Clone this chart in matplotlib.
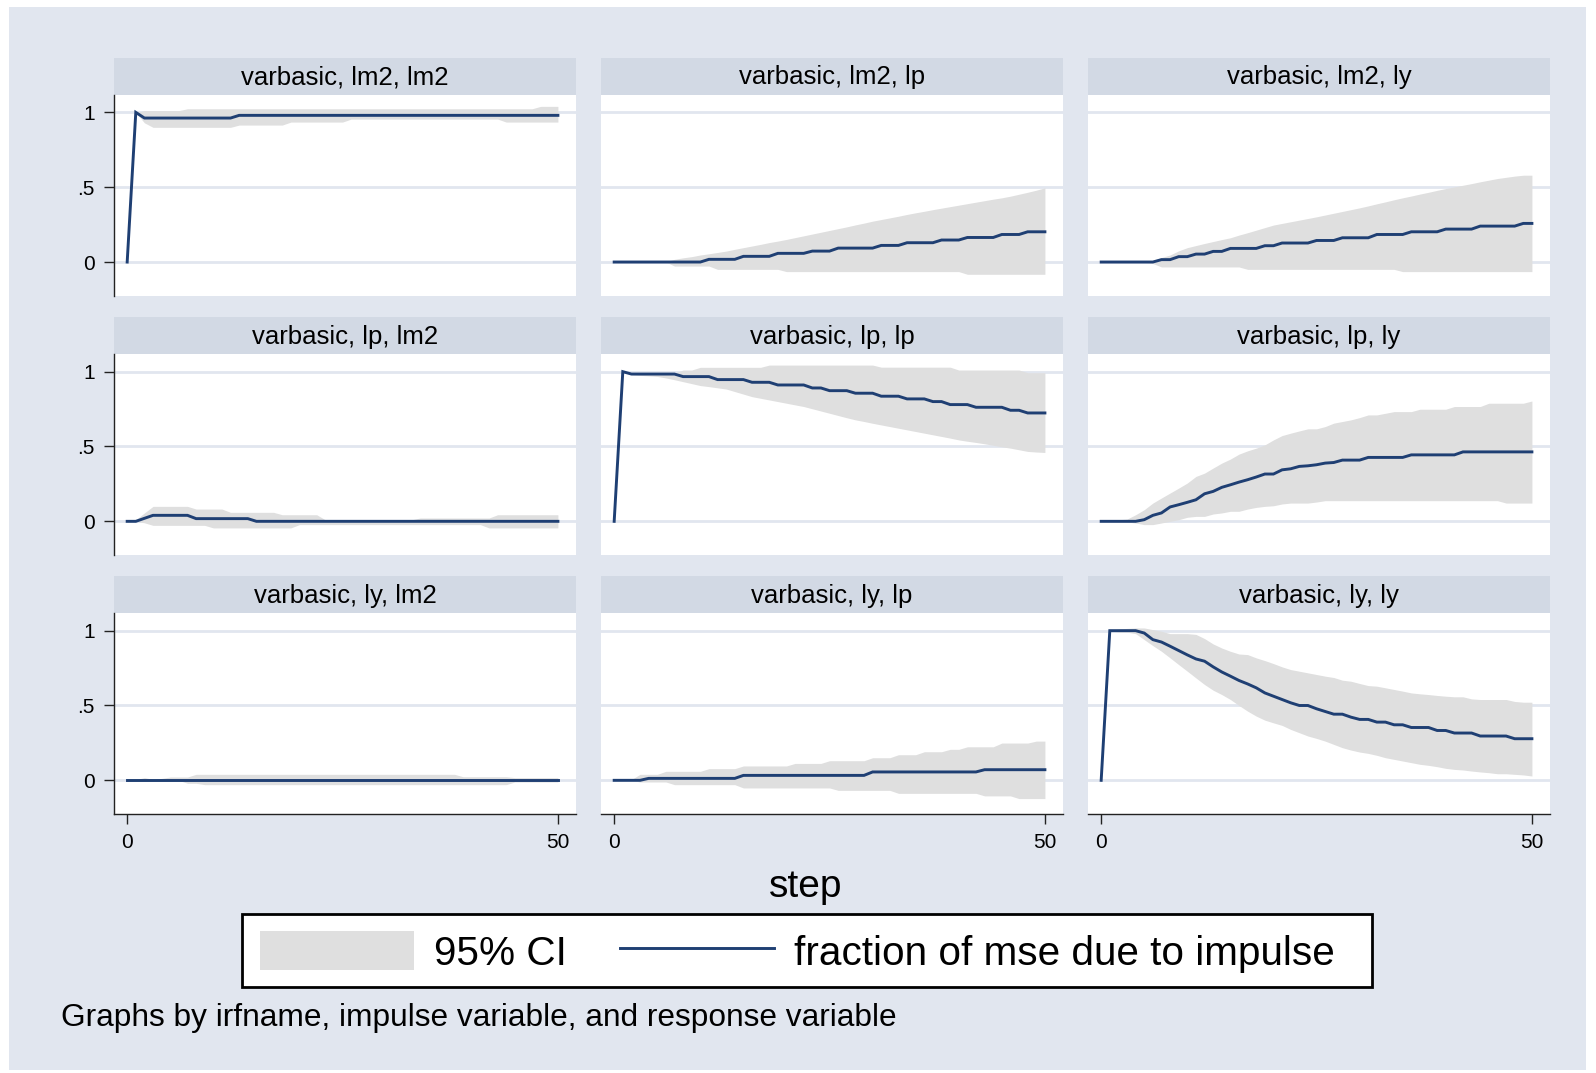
import numpy as np
import matplotlib
matplotlib.use("Agg")
import matplotlib.pyplot as plt
from matplotlib.patches import Rectangle

plt.rcParams['font.family'] = ['Liberation Sans', 'DejaVu Sans']

nan = np.nan
STEPS = list(range(51))

TITLES = ["varbasic, lm2, lm2", "varbasic, lm2, lp", "varbasic, lm2, ly",
          "varbasic, lp, lm2", "varbasic, lp, lp", "varbasic, lp, ly",
          "varbasic, ly, lm2", "varbasic, ly, lp", "varbasic, ly, ly"]

# ---- panel 1: lm2 -> lm2
P1_LINE = [0, 1.0, .962, .962, .962, .962, .962, .962, .962, .962,
           .962, .962, .962, .98, .98, .98, .98, .98, .98, .98,
           .98, .98, .98, .98, .98, .98, .98, .98, .98, .98,
           .98, .98, .98, .98, .98, .98, .98, .98, .98, .98,
           .98, .98, .98, .98, .98, .98, .98, .98, .98, .98,
           .98]
P1_LO = [nan, 1.0, .93, .90, .90, .90, .90, .90, .90, .90,
         .90, .90, .90, .915, .915, .915, .915, .915, .915, .935,
         .935, .935, .935, .935, .935, .935, .955, .955, .955, .955,
         .955, .955, .955, .955, .955, .955, .955, .955, .955, .955,
         .955, .955, .955, .955, .935, .935, .935, .935, .935, .935,
         .935]
P1_HI = [nan, 1.0, 1.012, 1.012, 1.012, 1.012, 1.012, 1.024, 1.024, 1.024,
         1.024, 1.024, 1.024, 1.024, 1.024, 1.024, 1.024, 1.024, 1.024, 1.024,
         1.024, 1.024, 1.024, 1.024, 1.024, 1.024, 1.024, 1.024, 1.024, 1.024,
         1.024, 1.024, 1.024, 1.024, 1.024, 1.024, 1.024, 1.024, 1.024, 1.024,
         1.024, 1.024, 1.024, 1.024, 1.024, 1.024, 1.024, 1.024, 1.04, 1.04,
         1.04]

# ---- panel 2: lm2 -> lp
P2_LINE = [0, 0, 0, 0, 0, 0, 0, 0, 0, 0,
           0, .018, .018, .018, .018, .038, .038, .038, .038, .058,
           .058, .058, .058, .073, .073, .073, .093, .093, .093, .093,
           .093, .111, .111, .111, .129, .129, .129, .129, .147, .147,
           .147, .164, .164, .164, .164, .184, .184, .184, .202, .202,
           .202]
P2_LO = [nan, 0, 0, 0, 0, 0, 0, -.027, -.027, -.027,
         -.027, -.027, -.049, -.049, -.049, -.049, -.049, -.049, -.049, -.049,
         -.064, -.064, -.064, -.064, -.064, -.064, -.064, -.064, -.064, -.064,
         -.064, -.064, -.064, -.064, -.064, -.064, -.064, -.064, -.064, -.064,
         -.064, -.082, -.082, -.082, -.082, -.082, -.082, -.082, -.082, -.082,
         -.082]
P2_HI = [nan, 0, 0, 0, 0, 0, .002, .018, .028, .036,
         .047, .055, .064, .073, .085, .096, .107, .118, .13, .14,
         .151, .163, .175, .187, .199, .211, .223, .235, .248, .26,
         .273, .284, .295, .306, .318, .329, .339, .35, .36, .37,
         .38, .39, .40, .41, .42, .429, .44, .453, .466, .48,
         .496]

# ---- panel 3: lm2 -> ly
P3_LINE = [0, 0, 0, 0, 0, 0, 0, .016, .016, .036,
           .036, .053, .053, .071, .071, .091, .091, .091, .091, .109,
           .109, .127, .127, .127, .127, .144, .144, .144, .162, .162,
           .162, .162, .184, .184, .184, .184, .202, .202, .202, .202,
           .22, .22, .22, .22, .24, .24, .24, .24, .24, .258,
           .258]
P3_LO = [nan, 0, 0, 0, 0, 0, -.01, -.033, -.033, -.033,
         -.033, -.033, -.033, -.033, -.033, -.033, -.033, -.049, -.049, -.049,
         -.049, -.049, -.049, -.049, -.049, -.049, -.049, -.049, -.049, -.049,
         -.049, -.049, -.049, -.049, -.049, -.064, -.064, -.064, -.064, -.064,
         -.064, -.064, -.064, -.064, -.064, -.064, -.064, -.064, -.064, -.064,
         -.064]
P3_HI = [nan, 0, 0, 0, 0, 0, .01, .03, .047, .075,
         .096, .11, .124, .137, .15, .162, .18, .196, .213, .23,
         .247, .258, .269, .28, .291, .302, .314, .326, .338, .35,
         .362, .375, .389, .402, .416, .429, .441, .454, .466, .479,
         .491, .502, .513, .524, .536, .547, .558, .566, .574, .58,
         .58]

# ---- panel 4: lp -> lm2
P4_LINE = [0, 0, .02, .04, .04, .04, .04, .04, .018, .018,
           .018, .018, .018, .018, .018, 0, 0, 0, 0, 0,
           0, 0, 0, 0, 0, 0, 0, 0, 0, 0,
           0, 0, 0, 0, 0, 0, 0, 0, 0, 0,
           0, 0, 0, 0, 0, 0, 0, 0, 0, 0,
           0]
P4_LO = [nan, 0, -.01, -.027, -.027, -.027, -.027, -.027, -.027, -.027,
         -.044, -.044, -.044, -.044, -.044, -.044, -.044, -.044, -.044, -.044,
         -.022, -.022, -.022, -.022, -.022, -.022, -.022, -.022, -.022, -.022,
         -.022, -.022, -.022, -.022, -.022, -.022, -.022, -.022, -.022, -.022,
         -.022, -.022, -.044, -.044, -.044, -.044, -.044, -.044, -.044, -.044,
         -.044]
P4_HI = [nan, .01, .056, .10, .10, .10, .10, .10, .082, .082,
         .082, .082, .06, .06, .06, .06, .06, .06, .044, .044,
         .044, .044, .044, .01, .01, .01, .01, .01, .01, .01,
         .01, .01, .01, .01, .022, .022, .022, .022, .022, .022,
         .022, .022, .022, .044, .044, .044, .044, .044, .044, .044,
         .044]

# ---- panel 5: lp -> lp
P5_LINE = [0, 1.0, .984, .984, .984, .984, .984, .984, .967, .967,
           .967, .967, .947, .947, .947, .947, .929, .929, .929, .911,
           .911, .911, .911, .891, .891, .873, .873, .873, .856, .856,
           .856, .836, .836, .836, .818, .818, .818, .80, .80, .78,
           .78, .78, .762, .762, .762, .762, .742, .742, .724, .724,
           .724]
P5_LO = [nan, 1.0, .98, .975, .972, .968, .958, .946, .933, .92,
         .907, .90, .892, .884, .867, .85, .833, .822, .811, .80,
         .789, .778, .767, .752, .737, .722, .707, .692, .678, .667,
         .655, .644, .633, .622, .611, .60, .589, .578, .567, .556,
         .544, .535, .527, .518, .508, .498, .489, .478, .467, .463,
         .46]
P5_HI = [nan, 1.0, .99, .99, .99, .99, .99, .99, 1.011, 1.011,
         1.029, 1.029, 1.029, 1.029, 1.029, 1.029, 1.029, 1.029, 1.044, 1.044,
         1.044, 1.044, 1.044, 1.044, 1.044, 1.044, 1.044, 1.044, 1.044, 1.044,
         1.044, 1.03, 1.03, 1.03, 1.03, 1.03, 1.03, 1.03, 1.03, 1.03,
         1.011, 1.011, 1.011, 1.011, 1.011, 1.011, 1.011, 1.011, .993, .993,
         .993]

# ---- panel 6: lp -> ly
P6_LINE = [0, 0, 0, 0, 0, .011, .04, .056, .096, .111,
           .127, .144, .184, .20, .227, .244, .262, .278, .296, .316,
           .316, .344, .351, .367, .371, .378, .389, .393, .409, .409,
           .409, .427, .427, .427, .427, .427, .444, .444, .444, .444,
           .444, .444, .464, .464, .464, .464, .464, .464, .464, .464,
           .464]
P6_LO = [nan, -.005, -.005, -.005, -.011, -.022, -.022, -.011, 0, .011,
         .027, .033, .033, .049, .056, .067, .067, .082, .093, .10,
         .104, .116, .122, .122, .122, .129, .138, .138, .138, .138,
         .138, .138, .138, .138, .138, .138, .138, .138, .138, .138,
         .138, .138, .138, .138, .138, .138, .138, .122, .122, .122,
         .122]
P6_HI = [nan, .01, .01, .015, .044, .078, .122, .156, .189, .222,
         .256, .30, .322, .356, .389, .416, .449, .471, .489, .511,
         .544, .573, .589, .604, .618, .618, .633, .656, .667, .678,
         .693, .711, .711, .722, .733, .733, .733, .749, .749, .749,
         .749, .767, .767, .767, .767, .789, .789, .789, .789, .789,
         .804]

# ---- panel 7: ly -> lm2
P7_LINE = [0, 0, 0, 0, 0, 0, 0, 0, 0, 0,
           0, 0, 0, 0, 0, 0, 0, 0, 0, 0,
           0, 0, 0, 0, 0, 0, 0, 0, 0, 0,
           0, 0, 0, 0, 0, 0, 0, 0, 0, 0,
           0, 0, 0, 0, 0, 0, 0, 0, 0, 0,
           0]
P7_LO = [nan, 0, 0, 0, 0, 0, 0, -.02, -.02, -.029,
         -.029, -.029, -.029, -.029, -.029, -.029, -.029, -.029, -.029, -.029,
         -.029, -.029, -.029, -.029, -.029, -.029, -.029, -.029, -.029, -.029,
         -.029, -.029, -.029, -.029, -.029, -.029, -.029, -.029, -.029, -.029,
         -.029, -.029, -.029, -.029, -.029, -.011, -.011, -.011, -.011, -.011,
         -.011]
P7_HI = [nan, .005, .018, .007, .013, .022, .022, .022, .04, .04,
         .04, .04, .04, .04, .04, .04, .04, .04, .04, .04,
         .04, .04, .04, .04, .04, .04, .04, .04, .04, .04,
         .04, .04, .04, .04, .04, .04, .04, .04, .04, .024,
         .024, .024, .024, .024, .024, .018, .018, .018, .018, .018,
         .018]

# ---- panel 8: ly -> lp
P8_LINE = [0, 0, 0, 0, .013, .013, .013, .013, .013, .013,
           .013, .013, .013, .013, .013, .033, .033, .033, .033, .033,
           .033, .033, .033, .033, .033, .033, .033, .033, .033, .033,
           .056, .056, .056, .056, .056, .056, .056, .056, .056, .056,
           .056, .056, .056, .071, .071, .071, .071, .071, .071, .071,
           .071]
P8_LO = [nan, 0, 0, -.011, -.011, -.011, -.011, -.029, -.029, -.029,
         -.029, -.029, -.029, -.029, -.029, -.051, -.051, -.051, -.051, -.051,
         -.051, -.051, -.051, -.051, -.051, -.051, -.067, -.067, -.067, -.067,
         -.067, -.067, -.067, -.087, -.087, -.087, -.087, -.087, -.087, -.087,
         -.087, -.087, -.087, -.104, -.104, -.104, -.104, -.122, -.122, -.122,
         -.122]
P8_HI = [nan, .005, .005, .04, .04, .04, .06, .06, .06, .06,
         .06, .078, .078, .078, .078, .096, .096, .096, .096, .096,
         .096, .113, .113, .113, .113, .131, .131, .131, .131, .131,
         .151, .151, .151, .171, .171, .171, .191, .191, .191, .207,
         .207, .224, .224, .224, .224, .249, .249, .249, .249, .262,
         .262]

# ---- panel 9: ly -> ly
P9_LINE = [0, 1.0, 1.0, 1.0, 1.0, .984, .94, .924, .896, .867,
           .838, .811, .796, .758, .724, .696, .667, .644, .618, .584,
           .562, .54, .518, .50, .50, .478, .46, .442, .442, .422,
           .407, .407, .389, .389, .371, .371, .353, .353, .353, .333,
           .333, .316, .316, .316, .296, .296, .296, .296, .278, .278,
           .278]
P9_LO = [nan, 1.0, .99, .99, .98, .94, .90, .862, .818, .773,
         .729, .684, .64, .602, .573, .54, .50, .462, .429, .402,
         .384, .367, .34, .318, .296, .28, .262, .24, .218, .202,
         .189, .18, .167, .151, .14, .129, .118, .107, .10, .091,
         .08, .073, .069, .062, .056, .051, .044, .044, .04, .036,
         .029]
P9_HI = [nan, 1.0, 1.01, 1.015, 1.018, 1.018, 1.007, .996, .98, .98,
         .98, .975, .947, .911, .884, .862, .844, .84, .818, .80,
         .78, .758, .74, .729, .718, .707, .696, .687, .669, .662,
         .647, .633, .629, .618, .607, .596, .584, .578, .573, .567,
         .562, .558, .558, .544, .54, .54, .54, .54, .527, .522,
         .522]

LINES = [P1_LINE, P2_LINE, P3_LINE, P4_LINE, P5_LINE, P6_LINE, P7_LINE, P8_LINE, P9_LINE]
LOWS = [P1_LO, P2_LO, P3_LO, P4_LO, P5_LO, P6_LO, P7_LO, P8_LO, P9_LO]
HIGHS = [P1_HI, P2_HI, P3_HI, P4_HI, P5_HI, P6_HI, P7_HI, P8_HI, P9_HI]

Y_TICKS = [0, 0.5, 1]
Y_TICKLABELS = ["0", ".5", "1"]
X_TICKS = [0, 50]
X_TICKLABELS = ["0", "50"]

CANVAS = "#E1E6EF"
STRIP = "#D2D9E4"
GRID = "#E1E6EF"
BAND = "#DFDFDF"
NAVY = "#1F3F73"

W, H = 1596, 1073
fig = plt.figure(figsize=(W / 100, H / 100), dpi=100, facecolor="white")


def rect(l, t, w, h):
    return [l / W, 1 - (t + h) / H, w / W, h / H]


fig.add_artist(Rectangle((9 / W, 1 - 1070 / H), (1586 - 9) / W, (1070 - 7) / H,
                         transform=fig.transFigure, facecolor=CANVAS,
                         edgecolor="none", zorder=-5))

col_left = [114, 601, 1088]
plot_w = 462
strip_top = [58, 317.3, 576.3]
strip_h = 36.7
plot_top = [94.7, 354.0, 613.0]
plot_h = 201

band_h = line_h = None
for i in range(9):
    r, c = divmod(i, 3)
    axs = fig.add_axes(rect(col_left[c], strip_top[r], plot_w, strip_h))
    axs.set_facecolor(STRIP)
    axs.set_xticks([])
    axs.set_yticks([])
    for sp in axs.spines.values():
        sp.set_visible(False)
    axs.text(0.5, 0.47, TITLES[i], ha="center", va="center", fontsize=18.5,
             transform=axs.transAxes)

    ax = fig.add_axes(rect(col_left[c], plot_top[r], plot_w, plot_h))
    ax.set_facecolor("white")
    ax.set_xlim(-1.53, 52.1)
    ax.set_ylim(-0.225, 1.118)
    band_h = ax.fill_between(STEPS, np.array(LOWS[i], float), np.array(HIGHS[i], float),
                             color=BAND, lw=0, zorder=2)
    line_h, = ax.plot(STEPS, LINES[i], color=NAVY, lw=2.1, zorder=3,
                      solid_joinstyle="miter")
    ax.set_yticks(Y_TICKS)
    ax.set_yticklabels(Y_TICKLABELS)
    ax.set_xticks(X_TICKS)
    ax.set_xticklabels(X_TICKLABELS)
    ax.yaxis.grid(True, color=GRID, lw=2.0, zorder=1)
    ax.set_axisbelow(True)
    for sp in ax.spines.values():
        sp.set_visible(False)
    ax.tick_params(axis="both", labelsize=15, length=7, width=1.0, pad=7,
                   color="#222222")
    if c == 0:
        ax.spines["left"].set_visible(True)
        ax.spines["left"].set_linewidth(1.0)
        ax.spines["left"].set_color("#222222")
    else:
        ax.tick_params(axis="y", left=False, labelleft=False)
    if r == 2:
        ax.spines["bottom"].set_visible(True)
        ax.spines["bottom"].set_linewidth(1.0)
        ax.spines["bottom"].set_color("#222222")
    else:
        ax.tick_params(axis="x", bottom=False, labelbottom=False)

fig.text(806 / W, 1 - 887 / H, "step", ha="center", va="center", fontsize=28)

# legend frame (box) and content
fig.add_artist(Rectangle((242 / W, 1 - 987 / H), (1372 - 242) / W, (987 - 914) / H,
                         transform=fig.transFigure, facecolor="white",
                         edgecolor="black", lw=2.0, zorder=4))
leg = fig.legend(handles=[band_h, line_h],
                 labels=["95% CI", "fraction of mse due to impulse"],
                 loc="center left", bbox_to_anchor=(260 / W, 1 - 952 / H),
                 ncol=2, fontsize=29.2, frameon=False,
                 handlelength=3.8, handleheight=1.1, handletextpad=0.5,
                 columnspacing=1.3, borderpad=0, borderaxespad=0)
leg.set_zorder(5)

fig.text(61 / W, 1 - 1018 / H,
         "Graphs by irfname, impulse variable, and response variable",
         ha="left", va="center", fontsize=22.8)

fig.savefig("out.png", dpi=100, facecolor="white")
